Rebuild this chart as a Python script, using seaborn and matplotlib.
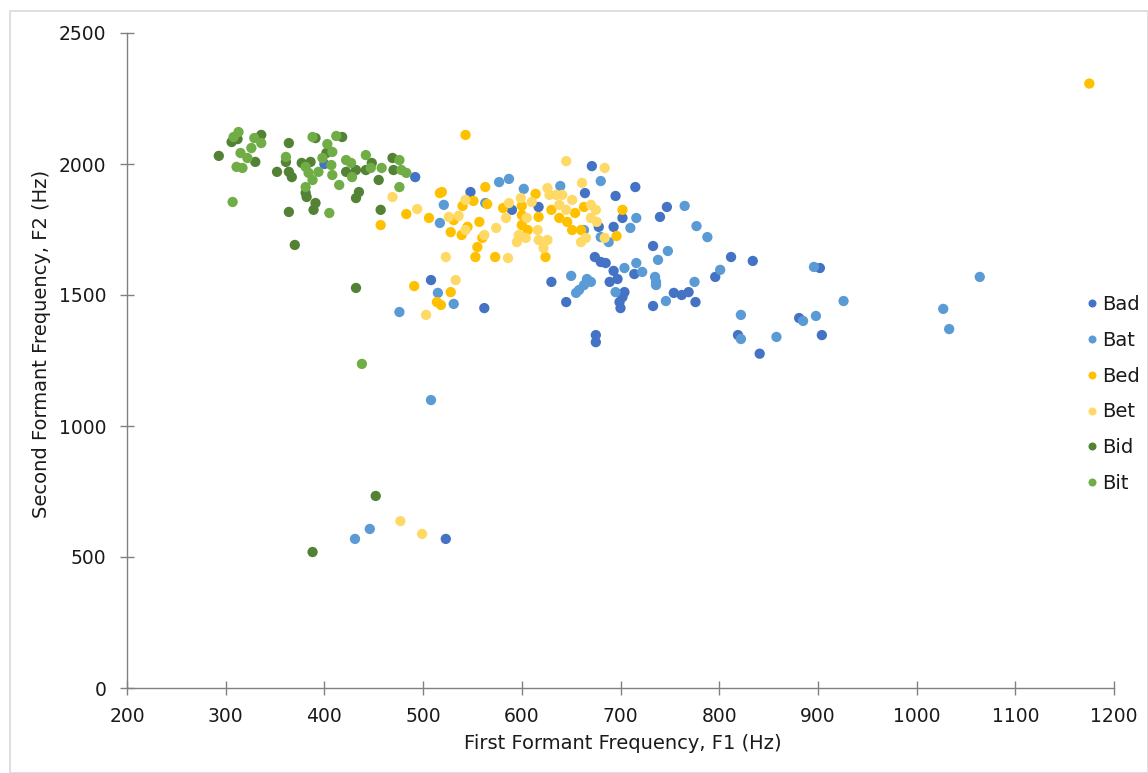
import matplotlib
matplotlib.use("Agg")
import matplotlib.pyplot as plt
import seaborn as sns
import pandas as pd
from matplotlib.patches import Rectangle

# ---- data (Hz) ----
bad_f1 = [400, 492, 671, 548, 590, 617, 664, 715, 695, 702, 678, 693, 747, 740, 733, 674, 680, 685,
          693, 697, 689, 714, 704, 702, 699, 700, 733, 754, 762, 769, 776, 630, 645, 562, 508, 812,
          834, 796, 881, 904, 819, 841, 902, 675, 675, 523]
bad_f2 = [2000, 1950, 1992, 1893, 1825, 1836, 1889, 1912, 1878, 1794, 1760, 1760, 1836, 1798, 1687, 1645, 1626, 1622,
          1592, 1561, 1550, 1580, 1511, 1492, 1473, 1450, 1458, 1508, 1500, 1511, 1473, 1550, 1473, 1450, 1557, 1645,
          1630, 1569, 1412, 1347, 1347, 1276, 1603, 1347, 1320, 569]

bat_f1 = [577, 587, 602, 639, 680, 521, 517, 563, 663, 680, 688, 716, 710, 765, 777, 788, 704, 716,
          722, 738, 748, 735, 736, 736, 746, 775, 801, 650, 666, 670, 663, 658, 655, 695, 515, 531,
          476, 896, 926, 822, 885, 898, 822, 858, 1064, 1027, 1033, 508, 431, 446]
bat_f2 = [1931, 1943, 1905, 1916, 1935, 1844, 1775, 1851, 1748, 1721, 1702, 1794, 1756, 1840, 1763, 1721, 1603, 1622,
          1588, 1634, 1668, 1569, 1550, 1538, 1477, 1550, 1596, 1573, 1561, 1550, 1538, 1519, 1508, 1511, 1508, 1466,
          1435, 1607, 1477, 1424, 1401, 1420, 1332, 1340, 1569, 1447, 1370, 1099, 569, 607]

bed_f1 = [543, 483, 506, 517, 519, 563, 565, 551, 540, 531, 528, 539, 545, 557, 560, 555, 553, 573,
          581, 600, 600, 600, 617, 614, 630, 638, 646, 651, 660, 654, 663, 624, 696, 702, 606, 491,
          528, 514, 518, 457, 1175]
bed_f2 = [2111, 1809, 1794, 1889, 1893, 1912, 1847, 1859, 1840, 1786, 1740, 1729, 1760, 1779, 1718, 1683, 1645, 1645,
          1832, 1840, 1805, 1767, 1798, 1886, 1825, 1794, 1779, 1748, 1748, 1813, 1836, 1645, 1725, 1825, 1748, 1534,
          1511, 1473, 1462, 1767, 2307]

bet_f1 = [645, 684, 661, 494, 469, 526, 536, 543, 523, 533, 503, 543, 562, 574, 584, 587, 599, 610,
          626, 628, 635, 641, 638, 651, 645, 586, 595, 604, 597, 605, 616, 617, 626, 622, 670, 675,
          676, 660, 665, 684, 670, 477, 499]
bet_f2 = [2011, 1985, 1928, 1828, 1874, 1798, 1802, 1863, 1645, 1557, 1424, 1748, 1729, 1756, 1794, 1851, 1870, 1855,
          1908, 1882, 1882, 1882, 1844, 1863, 1825, 1641, 1702, 1718, 1729, 1794, 1748, 1710, 1710, 1679, 1794, 1825,
          1779, 1702, 1718, 1718, 1844, 637, 588]

bid_f1 = [293, 306, 312, 336, 330, 364, 361, 364, 352, 367, 377, 386, 381, 382, 391, 389, 364, 418,
          391, 402, 422, 435, 432, 457, 448, 455, 469, 470, 432, 442, 370, 432, 452, 388]
bid_f2 = [2031, 2084, 2095, 2111, 2008, 2080, 2008, 1970, 1970, 1950, 2004, 2008, 1890, 1874, 1851, 1825, 1817, 2103,
          2099, 2042, 1970, 1893, 1870, 1825, 2004, 1939, 2023, 1977, 1977, 1977, 1691, 1527, 733, 519]

bit_f1 = [313, 308, 329, 336, 326, 315, 322, 311, 317, 307, 361, 388, 412, 403, 408, 398, 381, 384,
          394, 407, 408, 415, 388, 381, 422, 427, 428, 442, 447, 458, 476, 478, 483, 476, 405, 438]
bit_f2 = [2122, 2103, 2099, 2080, 2061, 2042, 2023, 1989, 1985, 1855, 2027, 2103, 2107, 2076, 2046, 2023, 1989, 1966,
          1970, 1996, 1958, 1920, 1939, 1912, 2015, 2004, 1950, 2034, 1985, 1985, 2015, 1977, 1966, 1912, 1813, 1237]

words = ["Bad", "Bat", "Bed", "Bet", "Bid", "Bit"]
colors = ["#4472C4", "#5B9BD5", "#FFC000", "#FFD966", "#548235", "#70AD47"]

series = {"Bad": (bad_f1, bad_f2), "Bat": (bat_f1, bat_f2), "Bed": (bed_f1, bed_f2),
          "Bet": (bet_f1, bet_f2), "Bid": (bid_f1, bid_f2), "Bit": (bit_f1, bit_f2)}
rows = []
for w in words:
    f1, f2 = series[w]
    for a, b in zip(f1, f2):
        rows.append({"F1": a, "F2": b, "Word": w})
df = pd.DataFrame(rows)

sns.set_theme(style="white")
plt.rcParams["font.family"] = ["DejaVu Sans"]

fig = plt.figure(figsize=(11.48, 7.73), dpi=100)
ax = fig.add_axes([127/1148, 1-688/773, (1114-127)/1148, (688-33)/773])

sns.scatterplot(data=df, x="F1", y="F2", hue="Word", hue_order=words,
                palette=dict(zip(words, colors)), s=55, linewidth=0, alpha=1.0, ax=ax)

ax.set_xlim(200, 1200)
ax.set_ylim(0, 2500)
ax.set_xticks(range(200, 1201, 100))
ax.set_yticks(range(0, 2501, 500))
ax.set_xlabel("First Formant Frequency, F1 (Hz)", fontsize=14, color="#1a1a1a")
ax.set_ylabel("Second Formant Frequency, F2 (Hz)", fontsize=14, color="#1a1a1a")
ax.xaxis.set_label_coords(0.5025, -0.070)
ax.yaxis.set_label_coords(-0.077, 0.525)

for sp in ["top", "right"]:
    ax.spines[sp].set_visible(False)
for sp in ["left", "bottom"]:
    ax.spines[sp].set_color("#808080")
    ax.spines[sp].set_linewidth(1.0)
ax.tick_params(axis="x", bottom=True, direction="inout", length=10, width=1, color="#808080",
               labelsize=13.5, labelcolor="#1a1a1a", pad=9)
ax.tick_params(axis="y", left=True, direction="inout", length=10, width=1, color="#808080",
               labelsize=13.5, labelcolor="#1a1a1a", pad=10)
ax.grid(False)

leg = ax.legend(loc="center left", bbox_to_anchor=(1087/1148, 1-394/773),
                bbox_transform=fig.transFigure, frameon=False, fontsize=14,
                handlelength=0.5, handletextpad=0.3, labelspacing=0.86,
                markerscale=0.78, borderaxespad=0, borderpad=0)
for t in leg.get_texts():
    t.set_color("#1a1a1a")

fig.patches.append(Rectangle((10/1148, 0), 1-10/1148, 1-11/773, transform=fig.transFigure,
                             fill=False, edgecolor="#d9d9d9", linewidth=1.2, zorder=-1))

fig.savefig("out.png", dpi=100)
